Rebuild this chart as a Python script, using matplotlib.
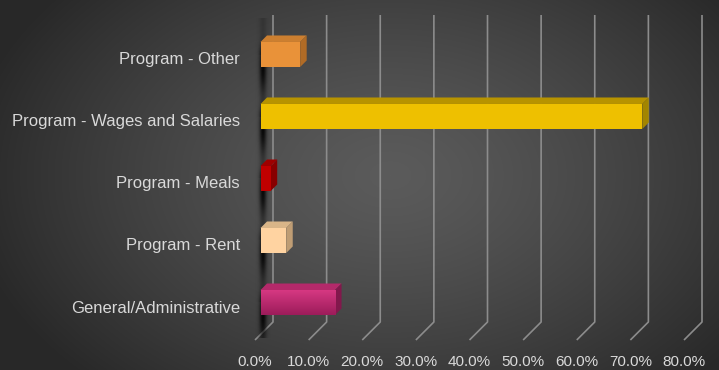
import numpy as np
import matplotlib
matplotlib.use("Agg")
import matplotlib.pyplot as plt
from matplotlib.patches import Rectangle, Polygon

# data, bottom to top
categories = ["General/Administrative", "Program - Rent", "Program - Meals",
              "Program - Wages and Salaries", "Program - Other"]
values = [13.9, 4.8, 1.9, 71.2, 7.4]
ticks = [0, 10, 20, 30, 40, 50, 60, 70, 80]

front_colors = ["#C92D74", "#FFD3A1", "#C00000", "#EEC000", "#E99239"]
top_colors = ["#B4296A", "#D9B588", "#9E0000", "#B79300", "#CC7F30"]
side_colors = ["#82184C", "#BF9D74", "#880000", "#A38500", "#B06B26"]

txt_col = "#D9D9D9"
grid_col = "#8C8C8C"

fig = plt.figure(figsize=(7.19, 3.70), dpi=100)

# radial gradient background
bg = fig.add_axes([0, 0, 1, 1], zorder=-10)
yy, xx = np.mgrid[0:370, 0:719]
r = np.sqrt(((xx - 390) / 430.0) ** 2 + ((yy - 175) / 290.0) ** 2)
r = np.clip(r, 0, 1)
shade = (0x5B - (0x5B - 0x28) * r ** 1.3) / 255.0
bg.imshow(np.dstack([shade, shade, shade]), aspect="auto", extent=[0, 1, 0, 1])
bg.axis("off")

# front plane axes
ylo, yhi = -0.516, 4.435
ax = fig.add_axes([255 / 719, 30 / 370, 429 / 719, 307 / 370])
ax.set_xlim(0, 80)
ax.set_ylim(ylo, yhi)
ax.axis("off")
ax.patch.set_alpha(0)

px_x = 429 / 80.0
px_y = 307 / (yhi - ylo)


def off(d):
    return d / px_x, d / px_y


# floor / back wall grid
gx, gy = off(18)
for t in ticks:
    ax.plot([t, t + gx, t + gx], [ylo, ylo + gy, yhi + gy], color=grid_col,
            lw=1.2, clip_on=False, zorder=1, solid_capstyle="butt")

# dark shadow streaks under the bars' left edge
d1x, d1y = off(5.5)
sx0, sx1 = (252 - 255) / px_x, (274 - 255) / px_x
sy0, sy1 = -30 / px_y, 290 / px_y
nx, ny = 60, 320
xs = np.linspace(sx0, sx1, nx)
ys = np.linspace(sy1, sy0, ny)
gxs = np.exp(-(((xs - (263 - 255) / px_x) * px_x) / 3.6) ** 2)
bump = np.zeros(ny)
for i in range(len(values)):
    dpx = ((i + d1y) - ys) * px_y  # px below bar centre
    prof = np.where(dpx < 0, np.exp(-(dpx / 10.0) ** 2),
                    np.exp(-((dpx - 12) / 24.0) ** 2))
    bump += prof
gys = 0.2 + 0.8 * np.clip(bump, 0, 1)
alpha = 0.9 * np.outer(gys, gxs)
rgba = np.zeros((ny, nx, 4))
rgba[..., 3] = alpha
ax.imshow(rgba, extent=[sx0, sx1, sy0, sy1], aspect="auto", zorder=2,
          clip_on=False, interpolation="bilinear")
ax.set_xlim(0, 80)
ax.set_ylim(ylo, yhi)

# 3D bars
h = 25 / px_y
d2x, d2y = off(12)
for i, v in enumerate(values):
    yb = i + d1y - h / 2
    yt = i + d1y + h / 2
    top = Polygon([(d1x, yt), (v + d1x, yt), (v + d2x, i + d2y + h / 2),
                   (d2x, i + d2y + h / 2)], closed=True,
                  facecolor=top_colors[i], edgecolor="none", zorder=3, clip_on=False)
    side = Polygon([(v + d1x, yb), (v + d2x, i + d2y - h / 2),
                    (v + d2x, i + d2y + h / 2), (v + d1x, yt)], closed=True,
                   facecolor=side_colors[i], edgecolor="none", zorder=3, clip_on=False)
    ax.add_patch(top)
    ax.add_patch(side)
    front = Rectangle((d1x, yb), v, h, facecolor=front_colors[i],
                      edgecolor="none", zorder=4, clip_on=False)
    ax.add_patch(front)
    if i == 0:
        grad = np.linspace(0, 1, 50)[:, None]
        c_top = np.array([0xD6, 0x38, 0x82]) / 255.0
        c_bot = np.array([0x9C, 0x1C, 0x5A]) / 255.0
        img = c_top * (1 - grad[..., None]) + c_bot * grad[..., None]
        img = np.repeat(img, 2, axis=1)
        im = ax.imshow(img, extent=[d1x, d1x + v, yb, yt], aspect="auto",
                       zorder=5, interpolation="bilinear")
        im.set_clip_path(front)
        ax.set_xlim(0, 80)
        ax.set_ylim(ylo, yhi)

# category labels
for i, name in enumerate(categories):
    ax.text((240 - 255) / px_x, i, name, ha="right", va="center",
            color=txt_col, fontsize=12, family="Liberation Sans")

# value axis labels
for t in ticks:
    ax.text(t, ylo - 22 / px_y, "%.1f%%" % t, ha="center", va="center",
            color=txt_col, fontsize=11, family="Liberation Sans")

plt.savefig("out.png", dpi=100)
